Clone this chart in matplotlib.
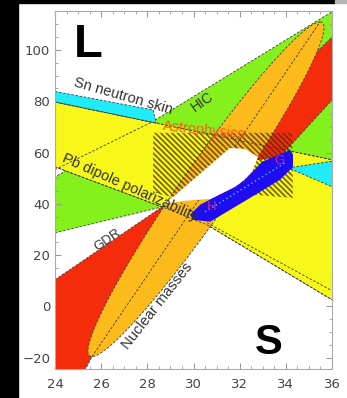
import matplotlib
matplotlib.use("Agg")
import matplotlib.pyplot as plt
import numpy as np
from matplotlib.patches import Polygon, Rectangle

plt.rcParams['font.family'] = ['Liberation Sans', 'DejaVu Sans']
plt.rcParams['hatch.linewidth'] = 1.2

# constraint regions in the (S, L) plane
hic_S = [24.0, 28.64, 36.2, 36.2, 28.20, 24.0]
hic_L = [28.7, 38.8, 56.2, 116.0, 71.9, 50.5]

pb_S = [24.0, 36.2, 36.2, 30.59, 28.64, 24.0]
pb_L = [79.7, 56.8, 1.5, 31.8, 38.8, 54.4]

sn_left_S = [24.0, 28.25, 28.38, 24.0]
sn_left_L = [83.8, 76.6, 71.5, 79.7]
sn_right_S = [34.10, 36.2, 36.2]
sn_right_L = [54.0, 56.9, 45.9]

gdr_low_S = [24.0, 28.72, 25.60, 25.26, 24.0]
gdr_low_L = [10.4, 39.3, -19.6, -25.4, -25.4]
gdr_up_S = [36.2, 34.96, 32.97, 32.67, 33.75, 36.2]
gdr_up_L = [106.6, 96.1, 64.9, 57.1, 58.3, 82.5]

# nuclear masses ellipse: centre, half of the long diameter, conjugate half width
mass_center = (30.54, 45.66)
mass_axis = (4.94, 65.25)
mass_width = (1.32, 0.0)

astro_S = [28.25, 34.27, 34.31, 32.67, 30.93, 29.29, 28.25]
astro_L = [67.7, 67.7, 42.3, 43.5, 43.5, 42.3, 44.3]

overlap_S = [28.77, 31.58, 32.23, 32.80, 32.54, 31.80, 30.80, 29.63]
overlap_L = [40.0, 61.8, 61.4, 58.3, 52.6, 45.8, 42.0, 41.2]

pnm_S = [29.85, 30.28, 30.93, 31.80, 32.23, 32.97, 34.18, 34.31,
         34.31, 33.75, 32.67, 31.80, 30.72, 29.98]
pnm_L = [35.7, 39.6, 42.7, 46.6, 49.4, 56.4, 61.0, 59.1,
         54.4, 49.4, 43.5, 38.8, 33.0, 33.8]
pnm_mid_S = [30.50, 33.97]
pnm_mid_L = [36.9, 56.0]

# extra dashed boundaries
pb_top_S, pb_top_L = [24.0, 36.2], [79.7, 56.8]
pb_bot_S, pb_bot_L = [24.0, 28.64, 30.59, 36.2], [54.4, 38.8, 31.8, 1.5]
pb_in_S, pb_in_L = [30.59, 35.92], [32.6, 6.5]
hic_in_S, hic_in_L = [24.0, 28.20], [53.3, 71.9]

xticks = [24, 26, 28, 30, 32, 34, 36]
yticks = [-20, 0, 20, 40, 60, 80, 100]

GREEN = '#84f01c'
YELLOW = '#f7f71a'
CYAN = '#20ecf8'
RED = '#f42c0c'
ORANGE = '#fcbb1a'
BLUE = '#200cf0'
dash = dict(edgecolor='#3a3a3a', linewidth=0.6, linestyle=(0, (3, 2)))

fig = plt.figure(figsize=(3.47, 3.98), dpi=100)
ax = fig.add_axes([55 / 347, 1 - 369 / 398, 277 / 347, 358.3 / 398])


def region(S, L, color, z):
    ax.add_patch(Polygon(np.column_stack([S, L]), closed=True,
                         facecolor=color, zorder=z, **dash))


region(hic_S, hic_L, GREEN, 1)
region(pb_S, pb_L, YELLOW, 2)
region(sn_left_S, sn_left_L, CYAN, 3)
region(sn_right_S, sn_right_L, CYAN, 3)
region(gdr_low_S, gdr_low_L, RED, 4)
region(gdr_up_S, gdr_up_L, RED, 4)

t = np.linspace(0, 2 * np.pi, 240)
ell_S = mass_center[0] + mass_axis[0] * np.cos(t) + mass_width[0] * np.sin(t)
ell_L = mass_center[1] + mass_axis[1] * np.cos(t) + mass_width[1] * np.sin(t)
region(ell_S, ell_L, ORANGE, 5)
ax.plot([mass_center[0] - mass_axis[0], mass_center[0] + mass_axis[0]],
        [mass_center[1] - mass_axis[1], mass_center[1] + mass_axis[1]],
        color='#3a3a3a', lw=0.6, ls=(0, (3, 2)), zorder=6)

for S, L in [(pb_top_S, pb_top_L), (pb_bot_S, pb_bot_L),
             (pb_in_S, pb_in_L), (hic_in_S, hic_in_L)]:
    ax.plot(S, L, color='#3a3a3a', lw=0.6, ls=(0, (3, 2)), zorder=6)

ax.add_patch(Polygon(np.column_stack([astro_S, astro_L]), closed=True,
                     fill=False, hatch='\\' * 6, edgecolor=(0.3, 0.18, 0.04, 0.75),
                     linewidth=0, zorder=7))
ax.add_patch(Polygon(np.column_stack([overlap_S, overlap_L]), closed=True,
                     facecolor='white', edgecolor='none', zorder=8))
ax.add_patch(Polygon(np.column_stack([pnm_S, pnm_L]), closed=True,
                     facecolor=BLUE, edgecolor='none', zorder=9))
ax.plot(pnm_mid_S, pnm_mid_L, color='#40c8ff', lw=1.0, ls=(0, (1, 2)), zorder=9.5)

txt = dict(color='#333333', ha='center', va='center', zorder=10)
ax.text(26.95, 82.0, 'Sn neutron skin', fontsize=10.5, rotation=-16, **txt)
ax.text(30.37, 79.7, 'HIC', fontsize=10, rotation=35, **txt)
ax.text(27.25, 46.3, 'Pb dipole polarizability', fontsize=10.5, rotation=-24, **txt)
ax.text(26.30, 26.0, 'GDR', fontsize=9.5, rotation=35, **txt)
ax.text(28.45, 0.3, 'Nuclear masses', fontsize=10.5, rotation=52, **txt)
ax.text(30.46, 68.6, 'Astrophysics', fontsize=10.5, rotation=-6, color='#ff5a1a',
        ha='center', va='center', zorder=10)
ax.text(30.80, 38.8, 'H', fontsize=9.5, color='#e0206a', ha='center', va='center', zorder=10)
ax.text(33.71, 56.8, 'G', fontsize=9.5, color='#e0206a', ha='center', va='center', zorder=10)
ax.text(25.43, 101.9, 'L', fontsize=34, fontweight='bold', color='black',
        ha='center', va='center', zorder=10)
ax.text(33.27, -14.1, 'S', fontsize=30, fontweight='bold', color='black',
        ha='center', va='center', zorder=10)

ax.set_xlim(24, 36)
ax.set_ylim(-24.4, 115.3)
ax.set_xticks(xticks)
ax.set_yticks(yticks)
ax.set_xticks(np.arange(24, 36.01, 0.5), minor=True)
ax.set_yticks(np.arange(-20, 115, 5), minor=True)
ax.tick_params(which='both', direction='in', top=True, right=True, color='#999999')
ax.tick_params(which='major', length=4)
ax.tick_params(which='minor', length=2.2)
ax.tick_params(axis='x', pad=6.5)
ax.tick_params(axis='y', pad=3.5)
for lab in ax.get_xticklabels() + ax.get_yticklabels():
    lab.set_fontfamily('DejaVu Sans')
    lab.set_fontsize(9.5)
    lab.set_color('#444444')
for sp in ax.spines.values():
    sp.set_color('#aaaaaa')
    sp.set_linewidth(0.8)
    sp.set_zorder(11)

# black frame of the screenshot
fig.patches.append(Rectangle((0, 0), 18 / 347, 1, transform=fig.transFigure,
                             color='black', zorder=-1))
fig.patches.append(Rectangle((0, 1 - 3.3 / 398), 335 / 347, 3.3 / 398,
                             transform=fig.transFigure, color='black', zorder=-1))
fig.patches.append(Rectangle((335 / 347, 1 - 3.3 / 398), 12 / 347, 3.3 / 398,
                             transform=fig.transFigure, color='#b4b4b4', zorder=-1))

fig.savefig('out.png', dpi=100)
